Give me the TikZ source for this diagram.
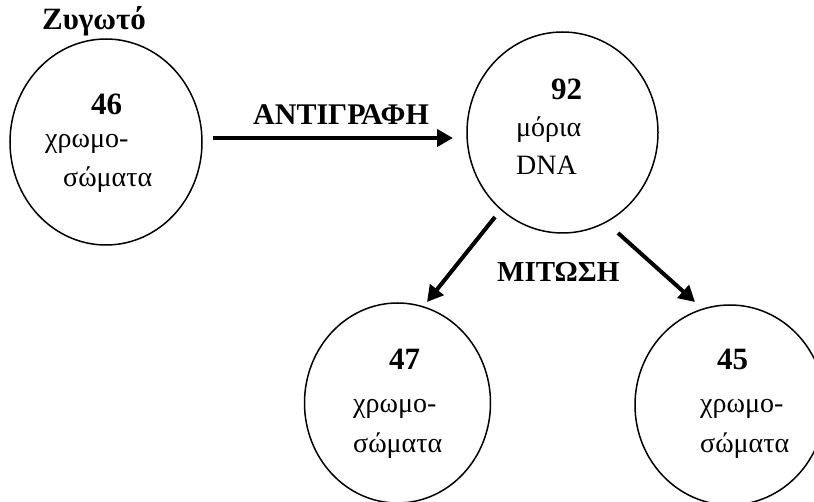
\documentclass[tikz,border=0pt]{standalone}
\usepackage{fontspec}
\setmainfont{Liberation Serif}
\usetikzlibrary{shapes.geometric,arrows.meta}

\tikzset{
  cell/.style={ellipse, draw, line width=1.5pt, inner sep=0pt},
  txt/.style={anchor=base west, inner sep=0pt, font=\fontsize{28}{33}\selectfont},
  num/.style={anchor=base west, inner sep=0pt, font=\fontsize{31}{36}\selectfont\bfseries},
  caps/.style={anchor=base west, inner sep=0pt, font=\fontsize{29}{34}\selectfont\bfseries},
  flow/.style={line width=4pt, -{Triangle[length=16pt,width=17pt]}}
}

\begin{document}
\begin{tikzpicture}[x=1pt,y=-1pt]
\useasboundingbox (0,0) rectangle (814,502);
\clip (0,0) rectangle (814,502);

% cells
\node[cell, minimum width=192pt, minimum height=206pt] (zyg) at (106,142) {};
\node[cell, minimum width=191pt, minimum height=201pt] (dna) at (562.5,132.5) {};
\node[cell, minimum width=186pt, minimum height=200pt] (left) at (397.5,403) {};
\node[cell, minimum width=190pt, minimum height=200pt] (right) at (730,405) {};

% labels
\node[num] (title) at (42,30) {Ζυγωτό};
\node[num] (n46) at (91,115) {46};
\node[txt] (c1a) at (45,148) {χρωμο-};
\node[txt] (c1b) at (63,187) {σώματα};

\node[num] (n92) at (551,100) {92};
\node[txt] (m1) at (516,137) {μόρια};
\node[txt] (m2) at (516,175) {DNA};

\node[num] (n47) at (389,370) {47};
\node[txt] (c2a) at (353,413) {χρωμο-};
\node[txt] (c2b) at (353,452) {σώματα};

\node[num] (n45) at (717,370) {45};
\node[txt] (c3a) at (700,413) {χρωμο-};
\node[txt] (c3b) at (700,452) {σώματα};

\node[caps, font=\fontsize{30}{35}\selectfont\bfseries] (copy) at (253,125) {ΑΝΤΙΓΡΑΦΗ};
\node[caps] (mit) at (497,282) {ΜΙΤΩΣΗ};

% arrow ends
\coordinate (a1) at (213,138);
\coordinate (a2) at (453,138);
\coordinate (b1) at (495,217);
\coordinate (b2) at (427,302);
\coordinate (c1) at (618,233);
\coordinate (c2) at (695,302);

\draw[flow] (a1) -- (a2);
\draw[flow] (b1) -- (b2);
\draw[flow] (c1) -- (c2);
\end{tikzpicture}
\end{document}
